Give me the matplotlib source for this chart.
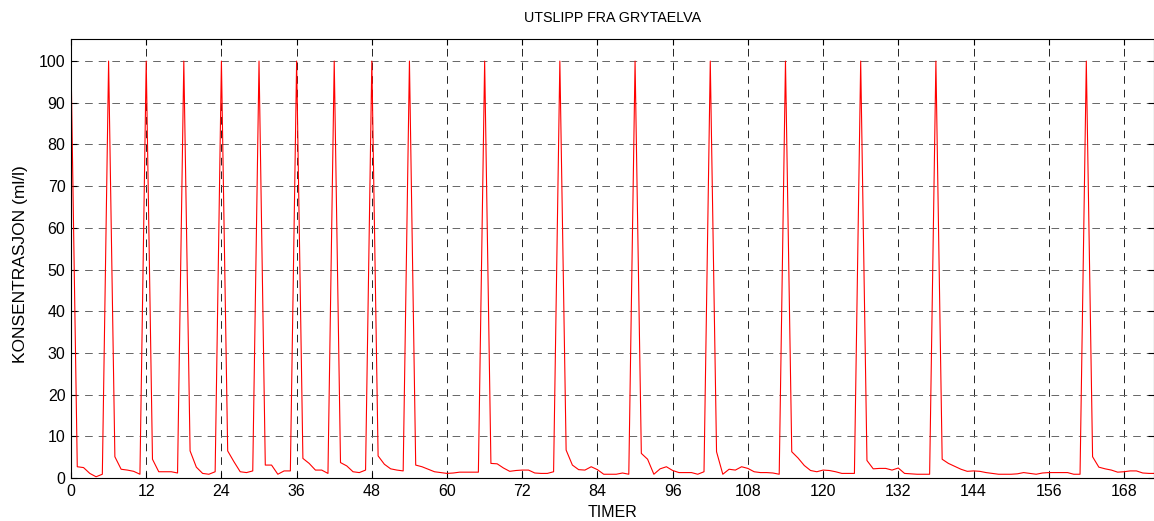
import numpy as np
import matplotlib
matplotlib.use('Agg')
import matplotlib.pyplot as plt

# concentration per hour (ml/l)
konsentrasjon = [
    100, 2.7, 2.5, 1.1, 0.3, 0.9,
    100, 5.1, 2.1, 1.9, 1.6, 0.9,
    100, 4.5, 1.5, 1.5, 1.5, 1.2,
    100, 6.5, 2.6, 1.1, 0.9, 1.5,
    100, 6.5, 3.9, 1.5, 1.3, 1.7,
    100, 3.1, 3.1, 0.9, 1.7, 1.7,
    100, 4.7, 3.5, 1.9, 1.9, 1.1,
    100, 3.7, 2.9, 1.5, 1.3, 1.9,
    100, 5.3, 3.3, 2.2, 1.9, 1.7,
    100, 3.1, 2.7, 2.1, 1.5, 1.3, 1.1, 1.2, 1.4, 1.4, 1.4, 1.4,
    100, 3.5, 3.4, 2.4, 1.6, 1.8, 1.9, 1.9, 1.2, 1.1, 1.1, 1.5,
    100, 6.7, 3.1, 2.0, 1.9, 2.7, 2.0, 0.9, 0.9, 0.9, 1.2, 0.9,
    100, 5.9, 4.5, 0.9, 2.2, 2.7, 1.8, 1.3, 1.3, 1.3, 0.9, 1.5,
    100, 6.3, 0.9, 2.1, 1.9, 2.7, 2.3, 1.5, 1.3, 1.3, 1.2, 0.9,
    100, 6.3, 4.8, 3.0, 1.8, 1.5, 1.9, 1.8, 1.5, 1.1, 1.1, 1.1,
    100, 4.2, 2.2, 2.3, 2.3, 1.9, 2.4, 1.1, 1.0, 0.9, 0.9, 0.9,
    100, 4.5, 3.5, 2.8, 2.1, 1.6, 1.7, 1.6, 1.3, 1.1, 0.9, 0.9, 0.9,
    1.0, 1.3, 1.1, 0.9, 1.2, 1.3, 1.3, 1.3, 1.3, 0.9, 0.9,
    100, 5.1, 2.6, 2.2, 1.9, 1.4, 1.5, 1.7, 1.7, 1.2, 1.1, 1.1,
]
timer = np.arange(len(konsentrasjon))

xticks = list(range(0, 169, 12))
yticks = list(range(0, 101, 10))

plt.rcParams['font.family'] = ['Liberation Sans', 'DejaVu Sans']
plt.rcParams['font.size'] = 10
plt.rcParams['lines.scale_dashes'] = False

fig = plt.figure(figsize=(11.54, 5.21), dpi=100)
ax = fig.add_axes([71/1154, 43/521, 1083/1154, 439/521])
ax.plot(timer, konsentrasjon, color='red', linewidth=0.8)

ax.set_xlim(0, 172.8)
ax.set_ylim(0, 105.3)
ax.set_xticks(xticks)
ax.set_yticks(yticks)
ax.tick_params(direction='in', length=4, width=0.8, top=True, right=True,
               labelsize=11.5, pad=4)
ax.grid(True, axis='x', color='black', linewidth=0.6, linestyle=(0, (5.5, 4.3)))
ax.grid(True, axis='y', color='0.4', linewidth=0.7, linestyle=(0, (5.5, 4.3)))
for s in ax.spines.values():
    s.set_linewidth(0.8)

ax.set_title('UTSLIPP FRA GRYTAELVA', fontsize=10.3, y=1.048, pad=0, va='center')
ax.set_xlabel('TIMER', fontsize=11.5)
ax.xaxis.set_label_coords(0.5, -0.0786)
ax.xaxis.label.set_verticalalignment('center')
ax.set_ylabel('KONSENTRASJON (ml/l)', fontsize=12.5)
ax.yaxis.set_label_coords(-0.0462, 0.4875)
ax.yaxis.label.set_verticalalignment('center')

plt.savefig('out.png', dpi=100)
